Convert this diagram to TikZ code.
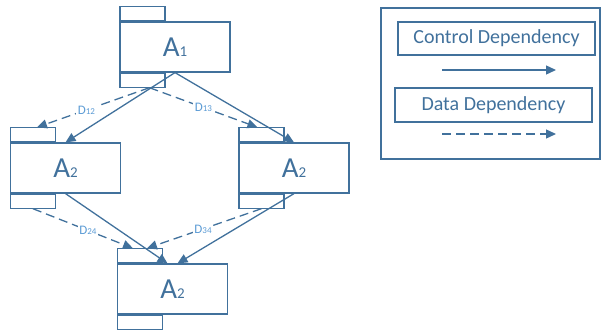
\documentclass[tikz,border=0pt]{standalone}
\usepackage{fontspec}
\setmainfont{Carlito}
\usepackage{xcolor}
\usetikzlibrary{calc,arrows.meta,positioning}

\definecolor{lineblue}{RGB}{65,113,156}
\definecolor{labelblue}{RGB}{91,155,213}

\tikzset{
  comp/.style={draw=lineblue, line width=1.2pt, minimum width=110pt, minimum height=50pt, inner sep=0pt, text=lineblue},
  comptab/.style={draw=lineblue, line width=1.1pt, minimum width=45pt, minimum height=14pt, inner sep=0pt},
  ctrl/.style={draw=lineblue, line width=1.3pt, -{Triangle[length=10pt,width=9pt]}},
  data/.style={draw=lineblue, line width=1.3pt, dash pattern=on 9pt off 5pt, -{Triangle[length=10pt,width=9pt]}},
  dlabel/.style={fill=white, inner sep=1.5pt, text=labelblue, font=\fontsize{13}{13}\selectfont},
  legbox/.style={draw=lineblue, line width=1.2pt, inner sep=0pt, text=lineblue, font=\fontsize{20}{20}\selectfont}
}

% component name: big letter with small index
\newcommand{\compname}[1]{{\fontsize{29}{29}\selectfont A}{\fontsize{15}{15}\selectfont #1}}
\newcommand{\depname}[1]{D{\fontsize{9}{9}\selectfont #1}}

\begin{document}
\begin{tikzpicture}[x=1pt, y=-1pt, >=Stealth]
    \useasboundingbox (0,0) rectangle (601,331);

    % the four components
    \node[comp] (a1) at (175,47) {\compname{1}};
    \node[comp] (a2) at (65.5,168) {\compname{2}};
    \node[comp] (a3) at (294,168) {\compname{2}};
    \node[comp] (a4) at (172.5,289) {\compname{2}};

    % little tabs on the left side of each component
    \foreach \c in {a1,a2,a3,a4} {
        \node[comptab, anchor=south west] (\c top) at (\c.north west) {};
        \node[comptab, anchor=north west] (\c bot) at (\c.south west) {};
    }

    % control dependencies
    \draw[ctrl] (a1.south) -- (a2.north);
    \draw[ctrl] (a1.south) -- (a3.north);
    \draw[ctrl] (a2.south) -- ([xshift=-5pt]a4.north);
    \draw[ctrl] (a3.south) -- ([xshift=5pt]a4.north);

    % data dependencies
    \draw[data] ([xshift=7pt]a1bot.south) -- ([xshift=4pt]a2top.north) node[dlabel, pos=0.56] {\depname{12}};
    \draw[data] ([xshift=7pt]a1bot.south) -- ([xshift=-4pt]a3top.north) node[dlabel, pos=0.5] {\depname{13}};
    \draw[data] (a2bot.south) -- ([xshift=-7pt]a4top.north) node[dlabel, pos=0.55] {\depname{24}};
    \draw[data] (a3bot.south) -- ([xshift=7pt]a4top.north) node[dlabel, pos=0.51] {\depname{34}};

    % legend
    \draw[lineblue, line width=1.2pt] (381,8) rectangle (600,159);
    \node[legbox, minimum width=197pt, minimum height=33pt] (lctrl) at (496.5,38.5) {Control Dependency};
    \node[legbox, minimum width=197pt, minimum height=34pt] (ldata) at (493.5,105) {Data Dependency};
    \coordinate (cs) at (442,70);
    \coordinate (ce) at (556,70);
    \coordinate (ds) at (442,134);
    \coordinate (de) at (556,134);
    \draw[ctrl] (cs) -- (ce);
    \draw[data] (ds) -- (de);
\end{tikzpicture}
\end{document}
